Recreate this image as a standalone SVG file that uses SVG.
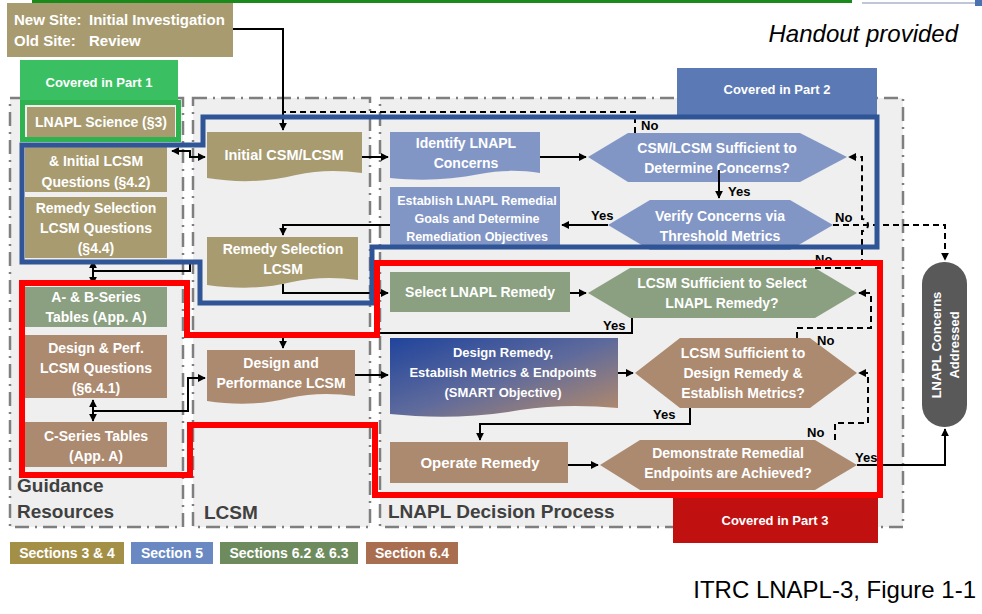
<svg xmlns="http://www.w3.org/2000/svg" width="982" height="614" viewBox="0 0 982 614">
<defs>
<marker id="ah" viewBox="0 0 10 10" refX="9" refY="5" markerWidth="8" markerHeight="8" markerUnits="userSpaceOnUse" orient="auto-start-reverse"><path d="M0,0 L10,5 L0,10 z" fill="#000"/></marker>
<linearGradient id="grad" x1="0" y1="0" x2="1" y2="1"><stop offset="0" stop-color="#20449c"/><stop offset="0.5" stop-color="#5e6a9c"/><stop offset="1" stop-color="#b88c68"/></linearGradient>
<style>
.col{fill:#efefef;stroke:#7f7f7f;stroke-width:2.5;stroke-dasharray:14 6 2 6}
.t{font-family:"Liberation Sans",Arial,sans-serif;font-weight:bold;fill:#fff;text-anchor:middle}
.ts{font-family:"Liberation Sans",Arial,sans-serif;font-weight:bold;fill:#fff;text-anchor:start;font-size:15px}
.lab{font-family:"Liberation Sans",Arial,sans-serif;font-weight:bold;fill:#000;font-size:13px}
.hd{font-family:"Liberation Sans",Arial,sans-serif;font-weight:bold;fill:#404040;font-size:19px}
.tan{fill:#a89b70}
.blu{fill:#8296c6}
.grn{fill:#8ba081}
.brn{fill:#ac8a70}
.ln{fill:none;stroke:#000;stroke-width:2}
.dl{fill:none;stroke:#000;stroke-width:2;stroke-dasharray:6 4}
</style>
</defs>
<rect x="0" y="0" width="982" height="614" fill="#fff"/>
<rect x="32" y="0" width="820" height="3" fill="#1a8a1a"/>
<line x1="862" y1="3" x2="975" y2="3" stroke="#aab4c8" stroke-width="1.5"/>
<rect x="975" y="0" width="7" height="6" fill="#4a72b0"/>

<g id="columns">
<rect class="col" x="10" y="98" width="173" height="429"/>
<rect class="col" x="193" y="98" width="177" height="429"/>
<rect class="col" x="380" y="98" width="523" height="429"/>
</g>

<g id="covered1"><rect x="20" y="60" width="158" height="42" fill="#3bbf63"/><text class="t" x="99" y="87" font-size="13">Covered in Part 1</text></g>
<g id="covered2"><rect x="677" y="68" width="200" height="50" fill="#5b79b4"/><text class="t" x="777" y="94" font-size="13">Covered in Part 2</text></g>
<g id="covered3"><rect x="673" y="495" width="205" height="48" fill="#c0100f"/><text class="t" x="775" y="525" font-size="13">Covered in Part 3</text></g>

<text x="958" y="42" font-family="Liberation Sans,Arial,sans-serif" font-style="italic" font-size="24" text-anchor="end" fill="#000">Handout provided</text>
<text x="976" y="598" font-family="Liberation Sans,Arial,sans-serif" font-size="24" text-anchor="end" fill="#000">ITRC LNAPL-3, Figure 1-1</text>

<g id="newsite"><rect class="tan" x="7" y="3" width="226" height="54"/>
<text class="ts" x="14" y="25">New Site:</text><text class="ts" x="89" y="25">Initial Investigation</text>
<text class="ts" x="14" y="46">Old Site:</text><text class="ts" x="89" y="46">Review</text></g>

<g id="lnaplscience"><rect class="tan" x="27" y="107" width="148" height="30"/><text class="t" x="101" y="127" font-size="14">LNAPL Science (§3)</text></g>
<g id="initialq"><rect class="tan" x="25" y="145" width="142" height="47"/><text class="t" x="96" y="166" font-size="14">&amp; Initial LCSM</text><text class="t" x="96" y="187" font-size="14">Questions (§4.2)</text></g>
<g id="remedyq"><rect class="tan" x="25" y="197" width="142" height="61"/><text class="t" x="96" y="213" font-size="14">Remedy Selection</text><text class="t" x="96" y="233" font-size="14">LCSM Questions</text><text class="t" x="96" y="253" font-size="14">(§4.4)</text></g>
<g id="abseries"><rect class="grn" x="25" y="287" width="142" height="40"/><text class="t" x="96" y="302" font-size="14">A- &amp; B-Series</text><text class="t" x="96" y="322" font-size="14">Tables (App. A)</text></g>
<g id="designq"><rect class="brn" x="25" y="335" width="142" height="63"/><text class="t" x="96" y="353" font-size="14">Design &amp; Perf.</text><text class="t" x="96" y="373" font-size="14">LCSM Questions</text><text class="t" x="96" y="393" font-size="14">(§6.4.1)</text></g>
<g id="cseries"><rect class="brn" x="25" y="422" width="142" height="45"/><text class="t" x="96" y="441" font-size="14">C-Series Tables</text><text class="t" x="96" y="461" font-size="14">(App. A)</text></g>
<text class="hd" x="17" y="492">Guidance</text>
<text class="hd" x="17" y="518">Resources</text>
<text class="hd" x="204" y="519">LCSM</text>
<text class="hd" x="388" y="518">LNAPL Decision Process</text>

<g id="initialcsm"><path class="tan" d="M207,132 H362 V173 C340,170 318,170 296,175 C268,182 238,183 207,178 Z"/><text class="t" x="284" y="160" font-size="14.5">Initial CSM/LCSM</text></g>
<g id="remedylcsm"><path class="tan" d="M207,237 H358 V280 C336,277 314,277 292,282 C264,289 236,289 207,285 Z"/><text class="t" x="283" y="254" font-size="14">Remedy Selection</text><text class="t" x="283" y="274" font-size="14">LCSM</text></g>
<g id="designlcsm"><path class="brn" d="M207,350 H355 V396 C333,393 311,393 289,398 C262,405 234,405 207,401 Z"/><text class="t" x="281" y="368" font-size="14">Design and</text><text class="t" x="281" y="388" font-size="14">Performance LCSM</text></g>

<g id="identify"><path class="blu" d="M390,132 H540 V173 C520,170 500,170 480,174 C450,180 420,181 390,178 Z"/><text class="t" x="466" y="148" font-size="14">Identify LNAPL</text><text class="t" x="466" y="168" font-size="14">Concerns</text></g>
<g id="establish"><rect class="blu" x="390" y="187" width="170" height="62"/><text class="t" x="477" y="205" font-size="12.5">Establish LNAPL Remedial</text><text class="t" x="477" y="223" font-size="12.5">Goals and Determine</text><text class="t" x="477" y="241" font-size="12.5">Remediation Objectives</text></g>
<g id="csmsufficient"><polygon class="blu" points="588,157 628,133 800,133 847,157 800,182 628,182"/><text class="t" x="717" y="153" font-size="14">CSM/LCSM Sufficient to</text><text class="t" x="717" y="173" font-size="14">Determine Concerns?</text></g>
<g id="verify"><polygon class="blu" points="608,225 650,200 790,200 833,225 790,250 650,250"/><text class="t" x="720" y="221" font-size="14">Verify Concerns via</text><text class="t" x="720" y="241" font-size="14">Threshold Metrics</text></g>
<g id="select"><rect class="grn" x="390" y="272" width="180" height="40"/><text class="t" x="480" y="297" font-size="14">Select LNAPL Remedy</text></g>
<g id="selectq"><polygon class="grn" points="588,293 630,268 815,268 857,293 815,318 630,318"/><text class="t" x="722" y="288" font-size="14">LCSM Sufficient to Select</text><text class="t" x="722" y="308" font-size="14">LNAPL Remedy?</text></g>
<g id="designremedy"><path fill="url(#grad)" d="M390,338 H618 V408 C585,405 552,405 520,410 C475,418 430,418 390,414 Z"/><text class="t" x="503" y="357" font-size="13">Design Remedy,</text><text class="t" x="503" y="377" font-size="13">Establish Metrics &amp; Endpoints</text><text class="t" x="503" y="397" font-size="13">(SMART Objective)</text></g>
<g id="designq2"><polygon class="brn" points="635,373 680,338 810,338 857,373 810,408 680,408"/><text class="t" x="743" y="358" font-size="14">LCSM Sufficient to</text><text class="t" x="743" y="378" font-size="14">Design Remedy &amp;</text><text class="t" x="743" y="398" font-size="14">Establish Metrics?</text></g>
<g id="operate"><rect class="brn" x="390" y="442" width="178" height="41"/><text class="t" x="480" y="468" font-size="15">Operate Remedy</text></g>
<g id="demonstrate"><polygon class="brn" points="600,465 640,440 815,440 857,465 815,490 640,490"/><text class="t" x="728" y="458" font-size="14">Demonstrate Remedial</text><text class="t" x="728" y="478" font-size="14">Endpoints are Achieved?</text></g>
<g id="addressed"><rect x="922" y="262" width="45" height="165" rx="22" fill="#595959"/><text class="t" font-size="13" transform="translate(945,345) rotate(-90)"><tspan x="0" y="-4">LNAPL Concerns</tspan><tspan x="0" y="14">Addressed</tspan></text></g>

<g id="connectors">
<path class="ln" d="M233,29 H283 V130" marker-end="url(#ah)"/>
<path class="ln" d="M172,151 H190 V157 H205" marker-start="url(#ah)" marker-end="url(#ah)"/>
<path class="ln" d="M362,157 H388" marker-end="url(#ah)"/>
<path class="ln" d="M540,157 H586" marker-end="url(#ah)"/>
<path class="ln" d="M719,170 V198" marker-end="url(#ah)"/>
<path class="ln" d="M608,225 H562" marker-end="url(#ah)"/>
<path class="ln" d="M390,225 H283 V235" marker-end="url(#ah)"/>
<path class="ln" d="M283,284 V293 H388" marker-end="url(#ah)"/>
<path class="ln" d="M570,293 H586" marker-end="url(#ah)"/>
<path class="ln" d="M632,318 V333 H283 V348" marker-end="url(#ah)"/>
<path class="ln" d="M93,261 V284" marker-start="url(#ah)" marker-end="url(#ah)"/>
<path class="ln" d="M93,271 H190 V262"/>
<path class="ln" d="M93,400 V421" marker-start="url(#ah)" marker-end="url(#ah)"/>
<path class="ln" d="M93,411 H188 V378 H205" marker-end="url(#ah)"/>
<path class="ln" d="M355,375 H388" marker-end="url(#ah)"/>
<path class="ln" d="M618,373 H633" marker-end="url(#ah)"/>
<path class="ln" d="M690,408 V424 H480 V440" marker-end="url(#ah)"/>
<path class="ln" d="M568,465 H598" marker-end="url(#ah)"/>
<path class="ln" d="M857,465 H945 V429" marker-end="url(#ah)"/>
<path class="dl" d="M635,133 V112 H283"/>
<path class="dl" d="M833,225 H945 V260" marker-end="url(#ah)"/>
<path class="dl" d="M815,268 H862 V231 A6,6 0 0 0 862,219 V157 H849" marker-end="url(#ah)"/>
<path class="dl" d="M797,338 V328 H871 V293 H859" marker-end="url(#ah)"/>
<path class="dl" d="M835,440 V423 H868 V373 H859" marker-end="url(#ah)"/>
<text class="lab" x="641" y="130">No</text>
<text class="lab" x="728" y="196">Yes</text>
<text class="lab" x="591" y="220">Yes</text>
<text class="lab" x="835" y="222">No</text>
<text class="lab" x="815" y="264">No</text>
<text class="lab" x="603" y="330">Yes</text>
<text class="lab" x="817" y="345">No</text>
<text class="lab" x="653" y="419">Yes</text>
<text class="lab" x="807" y="437">No</text>
<text class="lab" x="855" y="462">Yes</text>
</g>

<g id="outlines">
<rect x="22.5" y="102.5" width="156" height="37" fill="none" stroke="#2eb350" stroke-width="5"/>
<polygon points="22,145 203,145 203,117 877,117 877,247 372,247 372,303 200,303 200,262 22,262" fill="none" stroke="#2f5597" stroke-width="5"/>
<polygon points="22,283 187,283 187,335 377,335 377,263 880,263 880,495 375,495 375,425 190,425 190,475 22,475" fill="none" stroke="#ff0000" stroke-width="6"/>
</g>

<g id="legend">
<rect x="10" y="542" width="114" height="22" fill="#a48f47"/><text class="t" x="67" y="558" font-size="14">Sections 3 &amp; 4</text>
<rect x="131" y="542" width="82" height="22" fill="#6a89c2"/><text class="t" x="172" y="558" font-size="14">Section 5</text>
<rect x="220" y="542" width="138" height="22" fill="#6e8b5d"/><text class="t" x="289" y="558" font-size="14">Sections 6.2 &amp; 6.3</text>
<rect x="366" y="542" width="92" height="22" fill="#a96d4f"/><text class="t" x="412" y="558" font-size="14">Section 6.4</text>
</g>
</svg>
